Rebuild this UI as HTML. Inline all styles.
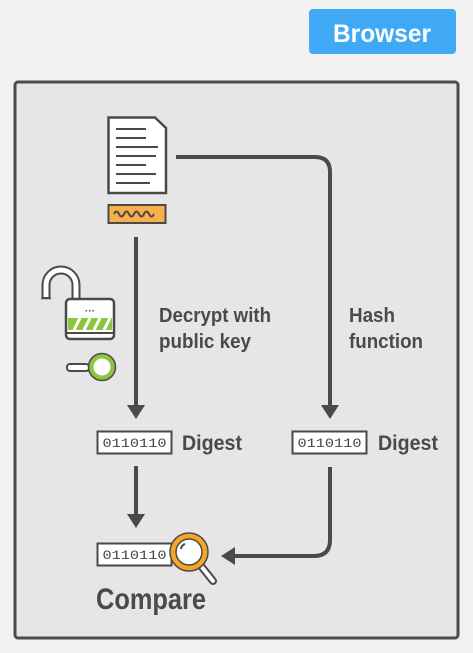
<!DOCTYPE html>
<html><head><meta charset="utf-8"><style>
html,body{margin:0;padding:0;background:#f1f1f1;}
svg{display:block}
text{font-family:"Liberation Sans",sans-serif;font-weight:bold;fill:#4a4a4a}
.m{font-family:"Liberation Mono",monospace;font-weight:normal;fill:#444}
</style></head><body>
<svg width="473" height="653" viewBox="0 0 473 653">
<rect x="0" y="0" width="473" height="653" fill="#f1f1f1"/>
<rect x="309" y="9" width="147" height="45" rx="4" fill="#3fa9f5"/>
<text x="382" y="42" text-anchor="middle" font-size="25" style="fill:#fff" textLength="98" lengthAdjust="spacingAndGlyphs">Browser</text>
<rect x="15" y="82" width="443" height="556" rx="3" fill="#e6e6e6" stroke="#4a4a4a" stroke-width="3"/>
<!-- document -->
<path d="M108.5 117.5 H155 L166 128 V193 H108.5 Z" fill="#fff" stroke="#4a4a4a" stroke-width="2.5"/>
<g stroke="#4a4a4a" stroke-width="2">
<line x1="116" y1="129" x2="146" y2="129"/><line x1="116" y1="138" x2="146" y2="138"/>
<line x1="116" y1="147" x2="158" y2="147"/><line x1="116" y1="156" x2="156" y2="156"/>
<line x1="116" y1="165" x2="146" y2="165"/><line x1="116" y1="174" x2="156" y2="174"/>
<line x1="116" y1="183" x2="150" y2="183"/></g>
<rect x="108.5" y="205" width="57" height="18" fill="#f9b04c" stroke="#4a4a4a" stroke-width="2"/>
<path d="M114 214 q2.5 -5 5 0 t5 0 t5 0 t5 0 t5 0 t5 0 t5 0 t5 0" fill="none" stroke="#4a4a4a" stroke-width="2"/>
<!-- lock shackle -->
<path d="M46 299 V285 a15 15 0 0 1 30 0 V302" fill="none" stroke="#4a4a4a" stroke-width="9"/>
<path d="M46 297 V285 a15 15 0 0 1 30 0 V302" fill="none" stroke="#fff" stroke-width="5"/>
<line x1="41" y1="298.5" x2="51" y2="298.5" stroke="#4a4a4a" stroke-width="1.5"/>
<rect x="66" y="299" width="48" height="40" rx="4" fill="#fff" stroke="#4a4a4a" stroke-width="2.5"/>
<path d="M68 318 H112 V330 H68 Z" fill="#8cc63f"/>
<path d="M74 330 l6 -12 M84 330 l6 -12 M94 330 l6 -12 M104 330 l6 -12" stroke="#fff" stroke-width="3"/>
<line x1="67" y1="333" x2="113" y2="333" stroke="#4a4a4a" stroke-width="2"/>
<text x="90" y="314" text-anchor="middle" font-size="10">···</text>
<!-- key -->
<rect x="67" y="364" width="22" height="7" rx="3" fill="#fff" stroke="#4a4a4a" stroke-width="2"/>
<circle cx="102" cy="367" r="11" fill="#fff" stroke="#8cc63f" stroke-width="5"/>
<circle cx="102" cy="367" r="13.5" fill="none" stroke="#4a4a4a" stroke-width="1.5"/>
<!-- arrows -->
<g stroke="#4a4a4a" stroke-width="4" fill="none">
<line x1="136" y1="237" x2="136" y2="408"/>
<path d="M176 157 H315 q15 0 15 15 V408"/>
<line x1="136" y1="466" x2="136" y2="517"/>
<path d="M330 467 V540 q0 16 -16 16 H232"/>
</g>
<g fill="#4a4a4a">
<path d="M127 405 L145 405 L136 419 Z"/>
<path d="M321 405 L339 405 L330 419 Z"/>
<path d="M127 514 L145 514 L136 528 Z"/>
<path d="M235 547 L235 565 L221 556 Z"/>
</g>
<text x="159" y="322" font-size="20" textLength="112" lengthAdjust="spacingAndGlyphs">Decrypt with</text>
<text x="159" y="348" font-size="20" textLength="92" lengthAdjust="spacingAndGlyphs">public key</text>
<text x="349" y="322" font-size="20" textLength="46" lengthAdjust="spacingAndGlyphs">Hash</text>
<text x="349" y="348" font-size="20" textLength="74" lengthAdjust="spacingAndGlyphs">function</text>
<!-- digests -->
<rect x="97.5" y="431.5" width="74" height="22" fill="#fff" stroke="#4a4a4a" stroke-width="2"/>
<text class="m" x="134.5" y="447" text-anchor="middle" font-size="13" textLength="64" lengthAdjust="spacingAndGlyphs">0110110</text>
<text x="182" y="450" font-size="21" textLength="60" lengthAdjust="spacingAndGlyphs">Digest</text>
<rect x="292.5" y="431.5" width="74" height="22" fill="#fff" stroke="#4a4a4a" stroke-width="2"/>
<text class="m" x="329.5" y="447" text-anchor="middle" font-size="13" textLength="64" lengthAdjust="spacingAndGlyphs">0110110</text>
<text x="378" y="450" font-size="21" textLength="60" lengthAdjust="spacingAndGlyphs">Digest</text>
<rect x="97.5" y="543.5" width="74" height="22" fill="#fff" stroke="#4a4a4a" stroke-width="2"/>
<text class="m" x="134.5" y="559" text-anchor="middle" font-size="13" textLength="64" lengthAdjust="spacingAndGlyphs">0110110</text>
<!-- magnifier -->
<line x1="201" y1="566" x2="213" y2="581" stroke="#4a4a4a" stroke-width="8" stroke-linecap="round"/>
<line x1="201" y1="566" x2="213" y2="581" stroke="#fff" stroke-width="4" stroke-linecap="round"/>
<circle cx="189" cy="552" r="16" fill="#fff" stroke="#f5a623" stroke-width="6"/>
<circle cx="189" cy="552" r="19" fill="none" stroke="#4a4a4a" stroke-width="1.5"/>
<circle cx="189" cy="552" r="13" fill="none" stroke="#4a4a4a" stroke-width="1.5"/>
<path d="M181 549 a6 6 0 0 1 4 -5" stroke="#4a4a4a" stroke-width="2" fill="none"/>
<text x="96" y="609" font-size="30" textLength="110" lengthAdjust="spacingAndGlyphs">Compare</text>
</svg>
</body></html>
